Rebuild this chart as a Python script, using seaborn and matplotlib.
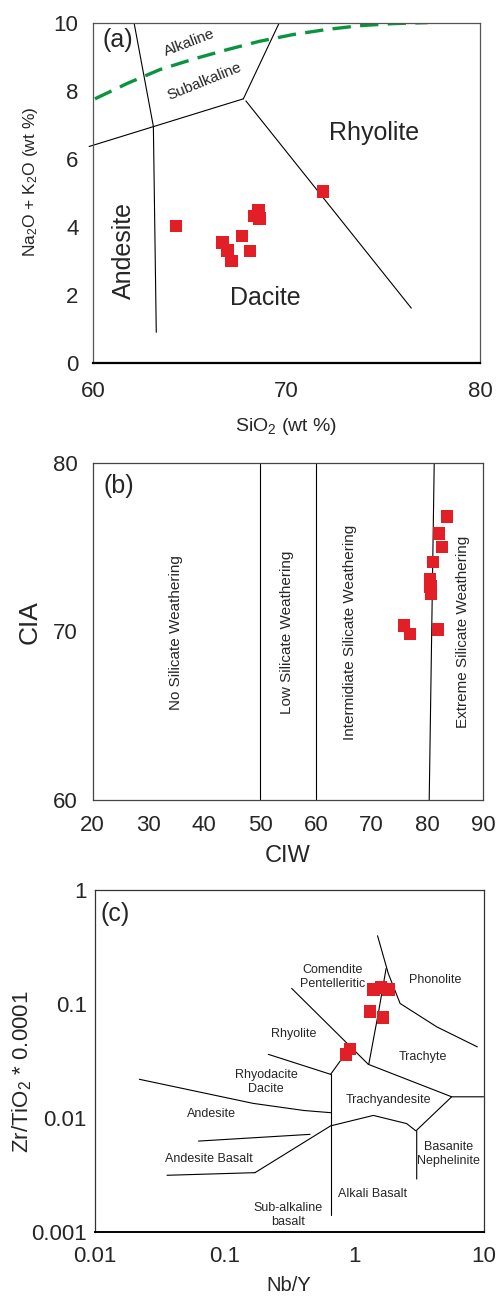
import matplotlib
matplotlib.use("Agg")
import matplotlib.pyplot as plt
import seaborn as sns
import pandas as pd
import numpy as np
from matplotlib.ticker import LogLocator, NullFormatter, FixedLocator

sns.set_style("white")
plt.rcParams['font.family'] = ['Liberation Sans', 'DejaVu Sans']
plt.rcParams['mathtext.fontset'] = 'custom'
plt.rcParams['mathtext.rm'] = 'Liberation Sans'
plt.rcParams['mathtext.it'] = 'Liberation Sans:italic'

# ---------------- data ----------------
# (a) TAS
a_sio2 = [64.3, 66.7, 66.95, 67.15, 67.7, 68.1, 68.35, 68.55, 68.6, 71.9]
a_alk = [4.03, 3.54, 3.30, 3.00, 3.73, 3.29, 4.32, 4.50, 4.25, 5.04]
a_and_dac_x = [62.12, 63.12, 63.27]
a_and_dac_y = [10.0, 6.95, 0.9]
a_low_x = [59.8, 67.77]
a_low_y = [6.36, 7.76]
a_up_x = [67.77, 69.63]
a_up_y = [7.76, 10.0]
a_dac_rhy_x = [67.9, 76.45]
a_dac_rhy_y = [7.7, 1.61]
a_green_x = [60.1, 61.8, 63.46, 65.2, 66.9, 68.6, 70.35, 72.1, 73.8, 75.5, 77.3]
a_green_y = [7.76, 8.22, 8.62, 8.93, 9.20, 9.45, 9.65, 9.80, 9.91, 9.97, 10.0]

# (b) CIA vs CIW
b_ciw = [83.55, 82.1, 82.65, 81.0, 80.45, 80.55, 80.65, 75.85, 76.85, 81.85]
b_cia = [76.8, 75.8, 75.0, 74.1, 73.1, 72.65, 72.25, 70.35, 69.85, 70.1]
b_bounds = [50, 60]
b_ext_x = [81.22, 80.32]
b_ext_y = [80, 60]
b_labels = ["No Silicate Weathering", "Low Silicate Weathering",
            "Intermidiate Silicate Weathering", "Extreme Silicate Weathering"]
b_label_x = [34.9, 54.8, 66.1, 86.4]

# (c) Winchester & Floyd
c_nby = [1.41, 1.61, 1.84, 1.33, 1.67, 0.87, 0.93]
c_zrti = [0.134, 0.14, 0.134, 0.0855, 0.0762, 0.036, 0.040]
c_lines = [
    ([0.33, 1.29], [0.137, 0.0295]),
    ([1.77, 1.54, 1.30], [0.205, 0.0826, 0.0295]),
    ([1.52, 1.84, 2.27, 4.35, 8.96], [0.397, 0.185, 0.101, 0.063, 0.042]),
    ([0.218, 0.66], [0.0361, 0.0241]),
    ([0.66, 0.948], [0.0241, 0.0427]),
    ([0.66, 0.66], [0.0241, 0.0014]),
    ([1.29, 5.68, 10.0], [0.0295, 0.0153, 0.0153]),
    ([0.022, 0.166, 0.41, 0.66], [0.0218, 0.0134, 0.0116, 0.0111]),
    ([5.68, 3.05, 3.05], [0.0153, 0.0078, 0.0029]),
    ([0.172, 0.66, 1.41, 2.55, 3.0], [0.0033, 0.0085, 0.0105, 0.0089, 0.0077]),
    ([0.063, 0.457], [0.00625, 0.00716]),
    ([0.036, 0.172], [0.00313, 0.0033]),
]
c_names = ["Comendite\nPentelleritic", "Phonolite", "Rhyolite", "Trachyte",
           "Rhyodacite\nDacite", "Trachyandesite", "Andesite", "Andesite Basalt",
           "Basanite\nNephelinite", "Alkali Basalt", "Sub-alkaline\nbasalt"]
c_name_x = [0.68, 4.22, 0.34, 3.39, 0.209, 1.85, 0.0796, 0.0759, 5.35, 1.39, 0.311]
c_name_y = [0.173, 0.162, 0.0544, 0.0342, 0.0207, 0.0143, 0.0108, 0.00432, 0.0048, 0.00214, 0.0014]

RED = "#e21f26"
GREEN = "#0a9440"
LW = 0.8
TICK_FS = 16

fig = plt.figure(figsize=(5, 12.99), dpi=100)

def style_spines(ax, color="#333333", lw=0.9):
    for s in ax.spines.values():
        s.set_visible(True)
        s.set_color(color)
        s.set_linewidth(lw)

# ---------------- (a) ----------------
ax1 = fig.add_axes([0.186, 0.7206, 0.774, 0.262])
ax1.plot(a_and_dac_x, a_and_dac_y, color="k", lw=LW)
ax1.plot(a_low_x, a_low_y, color="k", lw=LW, clip_on=False)
ax1.plot(a_up_x, a_up_y, color="k", lw=LW)
ax1.plot(a_dac_rhy_x, a_dac_rhy_y, color="k", lw=LW)
sns.lineplot(x=a_green_x, y=a_green_y, ax=ax1, color=GREEN, lw=2.4, sort=False,
             estimator=None, dashes=False, linestyle=(0, (5.5, 2.8)))
sns.scatterplot(x=a_sio2, y=a_alk, ax=ax1, marker="s", s=80, color=RED,
                edgecolor="none", zorder=5)
ax1.set_xlim(60, 80)
ax1.set_ylim(0, 10)
ax1.set_xticks([60, 70, 80])
ax1.set_yticks([0, 2, 4, 6, 8, 10])
ax1.tick_params(axis="y", direction="inout", length=11, width=0.8, labelsize=TICK_FS, pad=5)
ax1.tick_params(axis="x", direction="in", length=7, width=0.8, labelsize=TICK_FS, pad=13)
style_spines(ax1, "#555555", 0.9)
ax1.spines["bottom"].set_color("k")
ax1.spines["bottom"].set_linewidth(1.6)
ax1.set_xlabel("SiO$_2$ (wt %)", fontsize=14, labelpad=10)
ax1.set_ylabel("Na$_2$O + K$_2$O (wt %)", fontsize=12.5)
ax1.yaxis.set_label_coords(-0.137, 0.532)
ax1.text(61.3, 9.5, "(a)", fontsize=18, ha="center", va="center")
ax1.text(65.0, 9.4, "Alkaline", fontsize=11, rotation=21, ha="center", va="center")
ax1.text(65.75, 8.27, "Subalkaline", fontsize=11, rotation=22, ha="center", va="center")
ax1.text(74.5, 6.76, "Rhyolite", fontsize=18, ha="center", va="center")
ax1.text(68.9, 1.92, "Dacite", fontsize=18, ha="center", va="center")
ax1.text(61.6, 3.3, "Andesite", fontsize=18, rotation=90, ha="center", va="center")

# ---------------- (b) ----------------
ax2 = fig.add_axes([0.1854, 0.3841, 0.781, 0.2597])
for xb in b_bounds:
    ax2.axvline(xb, color="k", lw=LW)
ax2.plot(b_ext_x, b_ext_y, color="k", lw=LW)
sns.scatterplot(x=b_ciw, y=b_cia, ax=ax2, marker="s", s=80, color=RED,
                edgecolor="none", zorder=5)
for lab, lx in zip(b_labels, b_label_x):
    ax2.text(lx, 69.95, lab, rotation=90, fontsize=11, ha="center", va="center")
ax2.text(24.7, 78.6, "(b)", fontsize=18, ha="center", va="center")
ax2.set_xlim(20, 90)
ax2.set_ylim(60, 80)
ax2.set_xticks([20, 30, 40, 50, 60, 70, 80, 90])
ax2.set_yticks([60, 70, 80])
ax2.tick_params(axis="both", direction="in", length=8, width=0.8, labelsize=TICK_FS, pad=11)
style_spines(ax2, "#444444", 0.9)
ax2.set_xlabel("CIW", fontsize=17, labelpad=6.5)
ax2.set_ylabel("CIA", fontsize=19)
ax2.yaxis.set_label_coords(-0.13, 0.529)

# ---------------- (c) ----------------
ax3 = fig.add_axes([0.19, 0.0518, 0.777, 0.263])
for lx, ly in c_lines:
    ax3.plot(lx, ly, color="k", lw=LW)
sns.scatterplot(x=c_nby, y=c_zrti, ax=ax3, marker="s", s=80, color=RED,
                edgecolor="none", zorder=5)
for nm, nx, ny in zip(c_names, c_name_x, c_name_y):
    ax3.text(nx, ny, nm, fontsize=9, ha="center", va="center", linespacing=1.15)
ax3.text(0.0144, 0.62, "(c)", fontsize=18, ha="center", va="center")
ax3.set_xscale("log")
ax3.set_yscale("log")
ax3.set_xlim(0.01, 10)
ax3.set_ylim(0.001, 1)
ax3.set_xticks([0.01, 0.1, 1, 10])
ax3.set_xticklabels(["0.01", "0.1", "1", "10"])
ax3.set_yticks([0.001, 0.01, 0.1, 1])
ax3.set_yticklabels(["0.001", "0.01", "0.1", "1"])
ax3.xaxis.set_minor_locator(LogLocator(base=10, subs=np.arange(2, 10)))
ax3.yaxis.set_minor_locator(LogLocator(base=10, subs=np.arange(2, 10)))
ax3.xaxis.set_minor_formatter(NullFormatter())
ax3.yaxis.set_minor_formatter(NullFormatter())
ax3.tick_params(axis="x", which="major", direction="in", length=9, width=0.8, labelsize=TICK_FS, pad=10)
ax3.tick_params(axis="x", which="minor", direction="in", length=5, width=0.8)
ax3.tick_params(axis="y", which="major", direction="in", length=9, width=0.8, labelsize=TICK_FS, pad=6)
ax3.tick_params(axis="y", which="minor", direction="in", length=5, width=0.8)
style_spines(ax3, "#333333", 0.9)
ax3.spines["bottom"].set_color("k")
ax3.spines["bottom"].set_linewidth(1.4)
ax3.set_xlabel("Nb/Y", fontsize=14.5, labelpad=7)
ax3.set_ylabel("Zr/TiO$_2$ * 0.0001", fontsize=16)
ax3.yaxis.set_label_coords(-0.157, 0.467)

fig.savefig("out.png", dpi=100)
